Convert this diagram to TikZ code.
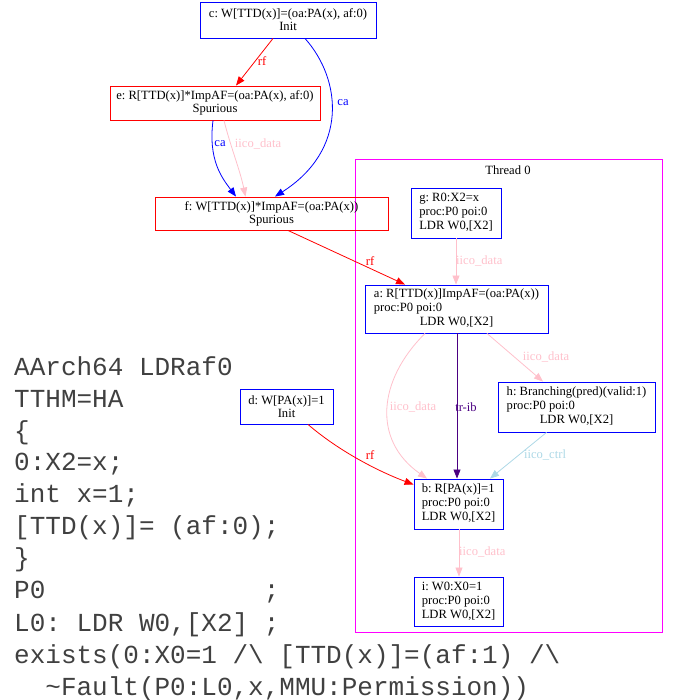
\documentclass[tikz,border=0pt]{standalone}
\usepackage{fontspec}
\setmainfont{Liberation Serif}
\newfontfamily\codefont{Liberation Mono}
\usetikzlibrary{arrows.meta}
\frenchspacing
\definecolor{gvblue}{HTML}{0000FF}
\definecolor{gvred}{HTML}{FF0000}
\definecolor{gvpink}{HTML}{FFC0CB}
\definecolor{gvlblue}{HTML}{ADD8E6}
\definecolor{gvindigo}{HTML}{4B0082}
\definecolor{gvmag}{HTML}{FF00FF}
\newcommand\gvf{\frenchspacing\fontsize{12.6}{14}\selectfont}
\newcommand\gvft{\frenchspacing\fontsize{12.6}{13}\selectfont}
\newcommand\cdf{\frenchspacing\codefont\fontsize{26}{32}\selectfont}
\begin{document}
\begin{tikzpicture}[x=1pt,y=-1pt,
  evt/.style={draw=gvblue, line width=0.9pt, rectangle, inner sep=0pt, font=\gvft, align=center},
  evtl/.style={draw=gvblue, line width=0.9pt, rectangle, inner sep=0pt, font=\gvf},
  evtr/.style={evt, draw=gvred},
  lbl/.style={font=\gvf, inner sep=0pt},
  arr/.style={-{Triangle[length=9pt,width=7pt]}, line width=0.8pt},
  code/.style={anchor=base west, inner sep=0pt, font=\cdf, text=black!75}
]
\useasboundingbox (0,0) rectangle (672,700);

% cluster
\node[draw=gvmag, line width=0.8pt, minimum width=307pt, minimum height=473pt, inner sep=0pt] (thr) at (508.5,395.5) {};
\node[lbl] (thrlbl) at (508,170) {Thread 0};

% events
\node[evt, minimum width=176pt, minimum height=36pt] (c) at (288,20) {c: W[TTD(x)]=(oa:PA(x), af:0)\\Init};
\node[evtr, minimum width=210pt, minimum height=34pt] (e) at (215,103) {e: R[TTD(x)]*ImpAF=(oa:PA(x), af:0)\\Spurious};
\node[evtr, minimum width=233pt, minimum height=33pt] (f) at (271.5,213.5) {f: W[TTD(x)]*ImpAF=(oa:PA(x))\\Spurious};
\node[evt, minimum width=93pt, minimum height=35pt] (d) at (286.5,406.5) {d: W[PA(x)]=1\\Init};

\node[evtl, minimum width=90pt, minimum height=50pt] (g) at (456,213)
  {\begin{tabular}{@{}l@{}}g: R0:X2=x\\proc:P0 poi:0\\LDR W0,[X2]\end{tabular}};
\node[evtl, minimum width=183pt, minimum height=48pt] (a) at (456.5,309)
  {\begin{tabular}{@{}l@{}}a: R[TTD(x)]ImpAF=(oa:PA(x))\\proc:P0 poi:0\\\multicolumn{1}{@{}c@{}}{LDR W0,[X2]}\end{tabular}};
\node[evtl, minimum width=157pt, minimum height=50pt] (h) at (576.5,407)
  {\begin{tabular}{@{}l@{}}h: Branching(pred)(valid:1)\\proc:P0 poi:0\\\multicolumn{1}{@{}c@{}}{LDR W0,[X2]}\end{tabular}};
\node[evtl, minimum width=89pt, minimum height=50pt] (b) at (458.5,504)
  {\begin{tabular}{@{}l@{}}b: R[PA(x)]=1\\proc:P0 poi:0\\LDR W0,[X2]\end{tabular}};
\node[evtl, minimum width=89pt, minimum height=49pt] (i) at (458.5,601.5)
  {\begin{tabular}{@{}l@{}}i: W0:X0=1\\proc:P0 poi:0\\LDR W0,[X2]\end{tabular}};

% edges
\draw[arr, gvred] ([xshift=-15pt]c.south) -- ([xshift=21pt]e.north);
\node[lbl, text=gvred] (l1) at (262,61) {rf};

\draw[arr, gvblue] ([xshift=17pt]c.south) .. controls (342,80) and (348,150) .. ([xshift=3.5pt]f.north);
\node[lbl, text=gvblue] (l2) at (343,103) {ca};

\draw[arr, gvblue] ([xshift=-2pt]e.south) .. controls (208,160) and (222,178) .. ([xshift=-35.5pt]f.north);
\node[lbl, text=gvblue] (l3) at (220,144) {ca};

\draw[arr, gvpink] ([xshift=9pt]e.south) .. controls (230,145) and (240,170) .. ([xshift=-26pt]f.north);
\node[lbl, text=gvpink] (l4) at (258,144) {iico\_data};

\draw[arr, gvred] ([xshift=16.5pt]f.south) -- ([xshift=-51.5pt]a.north);
\node[lbl, text=gvred] (l5) at (370,261) {rf};

\draw[arr, gvpink] (g.south) -- ([xshift=-0.5pt]a.north);
\node[lbl, text=gvpink, anchor=west] (l6) at (456,261) {iico\_data};

\draw[arr, gvpink] ([xshift=-31.5pt]a.south) .. controls (378,380) and (372,440) .. ([xshift=-31.5pt]b.north);
\node[lbl, text=gvpink] (l7) at (413,407) {iico\_data};

\draw[arr, gvindigo] ([xshift=0.5pt]a.south) -- ([xshift=-1.5pt]b.north);
\node[lbl, text=gvindigo] (l8) at (466,407) {tr-ib};

\draw[arr, gvpink] ([xshift=30.5pt]a.south) -- ([xshift=-33.5pt]h.north);
\node[lbl, text=gvpink] (l9) at (546,357) {iico\_data};

\draw[arr, gvlblue] ([xshift=-30pt]h.south) -- ([xshift=31.5pt]b.north);
\node[lbl, text=gvlblue] (l10) at (545,455) {iico\_ctrl};

\draw[arr, gvred] ([xshift=21.5pt]d.south) .. controls (340,452) and (380,472) .. ([yshift=-6pt]b.north west);
\node[lbl, text=gvred] (l11) at (370,455) {rf};

\draw[arr, gvpink] ([xshift=0.5pt]b.south) -- ([xshift=0.5pt]i.north);
\node[lbl, text=gvpink, anchor=west] (l12) at (459,552) {iico\_data};

% litmus code
\node[code] (t1) at (14,375) {AArch64 LDRaf0};
\node[code] (t2) at (14,407) {TTHM=HA};
\node[code] (t3) at (14,439) {\{};
\node[code] (t4) at (14,470) {0:X2=x;};
\node[code] (t5) at (14,502) {int x=1;};
\node[code] (t6) at (14,534) {[TTD(x)]= (af:0);};
\node[code] (t7) at (14,566) {\}};
\node[code] (t8) at (14,598) {P0\ \ \ \ \ \ \ \ \ \ \ \ \ \ ;};
\node[code] (t9) at (14,631) {L0: LDR W0,[X2] ;};
\node[code] (t10) at (14,663) {exists(0:X0=1 /\textbackslash{} [TTD(x)]=(af:1) /\textbackslash};
\node[code] (t11) at (14,695) {\ \ \textasciitilde Fault(P0:L0,x,MMU:Permission))};
\end{tikzpicture}
\end{document}
